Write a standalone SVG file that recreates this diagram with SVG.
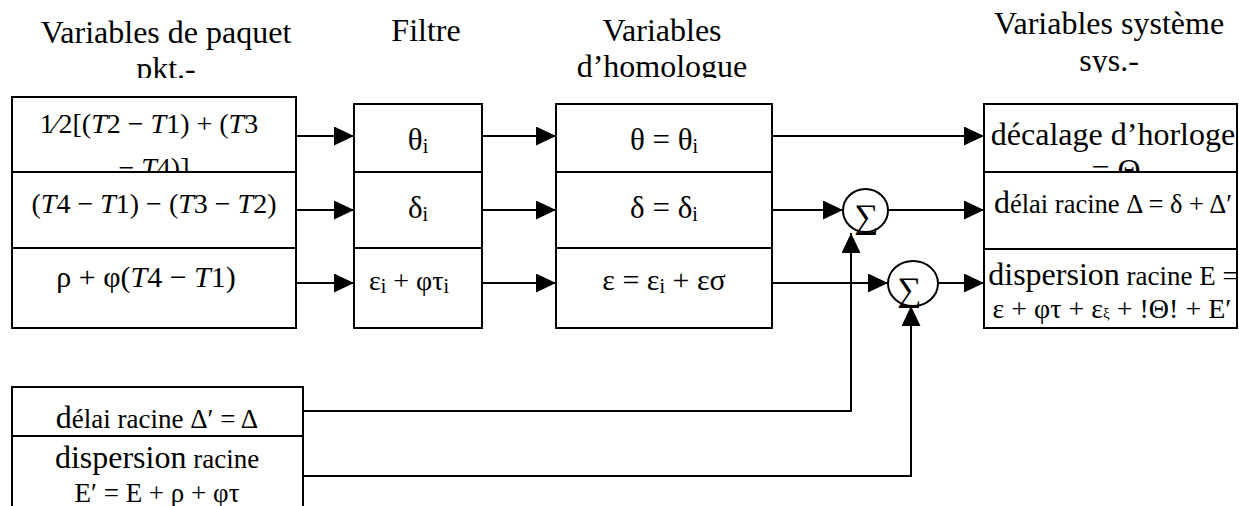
<svg xmlns="http://www.w3.org/2000/svg" width="1239" height="506" viewBox="0 0 1239 506" font-family="'Liberation Serif','Times New Roman',serif">
<style>
text{font-family:"Liberation Serif","Times New Roman",serif;fill:#000}
.h{font-size:32px;text-anchor:middle}
.c{text-anchor:middle}
.box{fill:#fff;stroke:#000;stroke-width:2}
.div{stroke:#000;stroke-width:2}
.ln{fill:none;stroke:#000;stroke-width:2}
.sum{fill:#fff;stroke:#000;stroke-width:2}
.sub{font-size:20px}
</style>
<defs>
<marker id="ah" markerUnits="userSpaceOnUse" markerWidth="20" markerHeight="20" refX="20" refY="9.5" orient="auto">
<path d="M0,0 L20,9.5 L0,19 z" fill="#000"/>
</marker>
<clipPath id="cpHL"><rect x="0" y="0" width="340" height="78"/></clipPath>
<clipPath id="cpHH"><rect x="500" y="0" width="330" height="78"/></clipPath>
<clipPath id="cpHS"><rect x="960" y="0" width="279" height="72.5"/></clipPath>
<clipPath id="cpL1"><rect x="12" y="97" width="284" height="74"/></clipPath>
<clipPath id="cpS1"><rect x="984" y="104" width="253" height="67"/></clipPath>
<clipPath id="cpS3"><rect x="984" y="249" width="253" height="78"/></clipPath>
</defs>

<g id="headers">
<g clip-path="url(#cpHL)"><text class="h" x="166" y="43">Variables de paquet</text><text class="h" x="166" y="79">pkt.-</text></g>
<text class="h" x="426" y="41">Filtre</text>
<g clip-path="url(#cpHH)"><text class="h" x="662" y="41">Variables</text><text class="h" x="662" y="77">d’homologue</text></g>
<g clip-path="url(#cpHS)"><text class="h" x="1109" y="34">Variables système</text><text class="h" x="1109" y="71">sys.-</text></g>
</g>

<g id="node-paquet">
<rect class="box" x="12" y="97" width="284" height="231"/>
<line class="div" x1="12" y1="172" x2="296" y2="172"/>
<line class="div" x1="12" y1="248" x2="296" y2="248"/>
<g clip-path="url(#cpL1)" font-size="28">
<text class="c" x="149" y="133">1⁄2[(<tspan font-style="italic">T</tspan>2 − <tspan font-style="italic">T</tspan>1) + (<tspan font-style="italic">T</tspan>3</text>
<text class="c" x="154" y="177">− <tspan font-style="italic">T</tspan>4)]</text>
</g>
<text class="c" x="154" y="213" font-size="28">(<tspan font-style="italic">T</tspan>4 − <tspan font-style="italic">T</tspan>1) − (<tspan font-style="italic">T</tspan>3 − <tspan font-style="italic">T</tspan>2)</text>
<text class="c" x="146" y="287" font-size="30">ρ + φ(<tspan font-style="italic">T</tspan>4 − <tspan font-style="italic">T</tspan>1)</text>
</g>

<g id="node-filtre">
<rect class="box" x="354" y="104" width="128" height="224"/>
<line class="div" x1="354" y1="172" x2="482" y2="172"/>
<line class="div" x1="354" y1="248" x2="482" y2="248"/>
<text class="c" x="418" y="150" font-size="31">θ<tspan class="sub" dy="3">i</tspan></text>
<text class="c" x="418" y="218" font-size="31">δ<tspan class="sub" dy="3">i</tspan></text>
<text class="c" x="409" y="290" font-size="28">ε<tspan class="sub" dy="3">i</tspan><tspan dy="-3"> + φτ</tspan><tspan class="sub" dy="3">i</tspan></text>
</g>

<g id="node-homologue">
<rect class="box" x="556" y="104" width="216" height="224"/>
<line class="div" x1="556" y1="172" x2="772" y2="172"/>
<line class="div" x1="556" y1="248" x2="772" y2="248"/>
<text class="c" x="664" y="150" font-size="31">θ = θ<tspan class="sub" dy="3">i</tspan></text>
<text class="c" x="664" y="218" font-size="31">δ = δ<tspan class="sub" dy="3">i</tspan></text>
<text class="c" x="664" y="290" font-size="30">ε = ε<tspan class="sub" dy="3">i</tspan><tspan dy="-3"> + εσ</tspan></text>
</g>

<g id="node-systeme">
<rect class="box" x="984" y="104" width="253" height="224"/>
<line class="div" x1="984" y1="172" x2="1237" y2="172"/>
<line class="div" x1="984" y1="249" x2="1237" y2="249"/>
<g clip-path="url(#cpS1)">
<text class="c" x="1113" y="145" font-size="32">décalage d’horloge</text>
<text class="c" x="1116" y="181" font-size="32">= Θ</text>
</g>
<text class="c" x="1113" y="213" font-size="26.5"><tspan font-size="32">d</tspan>élai racine Δ = δ + Δ′</text>
<g clip-path="url(#cpS3)">
<text class="c" x="1113" y="285" font-size="27"><tspan font-size="32">dispersion</tspan> racine E =</text>
<text class="c" x="1112" y="318" font-size="28">ε + φτ + ε<tspan font-size="15">ξ</tspan> + !Θ! + E′</text>
</g>
</g>

<g id="node-sum1">
<ellipse class="sum" cx="865.5" cy="210.5" rx="22.5" ry="21.5"/>
<text class="c" x="866" y="228" font-size="34">∑</text>
</g>
<g id="node-sum2">
<ellipse class="sum" cx="913" cy="283.5" rx="25" ry="22.5"/>
<text class="c" x="909" y="301" font-size="34">∑</text>
</g>

<g id="node-local">
<rect class="box" x="12" y="387" width="291" height="130"/>
<line class="div" x1="12" y1="436" x2="303" y2="436"/>
<text class="c" x="157" y="428" font-size="27"><tspan font-size="32">d</tspan>élai racine Δ′ = Δ</text>
<text class="c" x="157" y="468" font-size="27"><tspan font-size="32">dispersion</tspan> racine</text>
<text class="c" x="157" y="502" font-size="27">E′ = E + ρ + φτ</text>
</g>

<g id="connectors">
<line class="ln" x1="296" y1="136" x2="354" y2="136" marker-end="url(#ah)"/>
<line class="ln" x1="296" y1="210" x2="354" y2="210" marker-end="url(#ah)"/>
<line class="ln" x1="296" y1="283" x2="354" y2="283" marker-end="url(#ah)"/>
<line class="ln" x1="482" y1="136" x2="556" y2="136" marker-end="url(#ah)"/>
<line class="ln" x1="482" y1="210" x2="556" y2="210" marker-end="url(#ah)"/>
<line class="ln" x1="482" y1="283" x2="556" y2="283" marker-end="url(#ah)"/>
<line class="ln" x1="772" y1="136" x2="984" y2="136" marker-end="url(#ah)"/>
<line class="ln" x1="772" y1="210" x2="843" y2="210" marker-end="url(#ah)"/>
<line class="ln" x1="888" y1="210" x2="984" y2="210" marker-end="url(#ah)"/>
<line class="ln" x1="772" y1="283" x2="888" y2="283" marker-end="url(#ah)"/>
<line class="ln" x1="938" y1="283" x2="984" y2="283" marker-end="url(#ah)"/>
<path class="ln" d="M303,411 H851 V233" marker-end="url(#ah)"/>
<path class="ln" d="M303,476 H911 V306" marker-end="url(#ah)"/>
</g>
</svg>
